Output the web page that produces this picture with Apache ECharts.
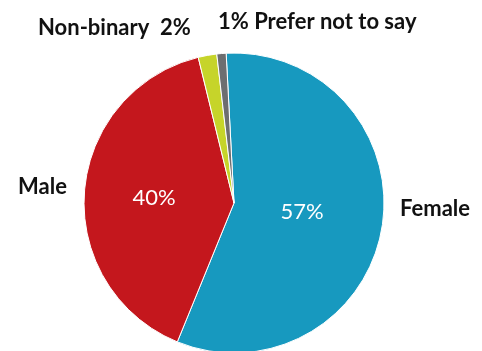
<!DOCTYPE html>
<html><head><meta charset="utf-8">
<script src="https://cdn.jsdelivr.net/npm/echarts@6/dist/echarts.min.js"></script>
<style>html,body{margin:0;padding:0;background:#fff}#c{width:482px;height:351px}</style>
</head><body><div id="c"></div>
<script>
const categories = ['Female', 'Male', 'Non-binary', 'Prefer not to say'];
const values = [57, 40, 2, 1];
const colors = ['#1799bf', '#c4171d', '#c6d42a', '#6d6e70'];
const outerText = ['Female', 'Male', 'Non-binary  2%', '1% Prefer not to say'];
const innerText = ['57%', '40%', '', ''];

const outerPos = [
  {x: 400, y: 209, align: 'left'},
  {x: 18, y: 187, align: 'left'},
  {x: 38, y: 28, align: 'left'},
  {x: 218, y: 22, align: 'left'}
];
const innerPos = [
  {x: 302, y: 212, align: 'center'},
  {x: 154, y: 198, align: 'center'},
  {x: 0, y: 0, align: 'center'},
  {x: 0, y: 0, align: 'center'}
];

const chart = echarts.init(document.getElementById('c'), null, {renderer: 'canvas'});
const base = {
  type: 'pie',
  center: [234, 203],
  radius: [0, 150],
  startAngle: 93,
  clockwise: true,
  animation: false,
  avoidLabelOverlap: false
};
chart.setOption({
  series: [
    Object.assign({}, base, {
      data: categories.map((c, i) => ({name: c, value: values[i], itemStyle: {color: colors[i]}})),
      itemStyle: {borderColor: '#ffffff', borderWidth: 1},
      label: {
        show: true, position: 'outside',
        formatter: p => outerText[p.dataIndex],
        fontFamily: 'Lato', fontWeight: 'bold', fontSize: 22, color: '#111111'
      },
      labelLine: {show: false},
      labelLayout: p => ({x: outerPos[p.dataIndex].x, y: outerPos[p.dataIndex].y, align: outerPos[p.dataIndex].align, verticalAlign: 'middle'})
    }),
    Object.assign({}, base, {
      silent: true,
      data: categories.map((c, i) => ({name: c, value: values[i], itemStyle: {color: 'rgba(0,0,0,0)'}})),
      itemStyle: {borderWidth: 0},
      label: {
        show: true, position: 'inside',
        formatter: p => innerText[p.dataIndex],
        fontFamily: 'Lato', fontWeight: 'normal', fontSize: 22, color: '#ffffff'
      },
      labelLine: {show: false},
      labelLayout: p => ({x: innerPos[p.dataIndex].x, y: innerPos[p.dataIndex].y, align: innerPos[p.dataIndex].align, verticalAlign: 'middle'})
    })
  ]
});
</script></body></html>
